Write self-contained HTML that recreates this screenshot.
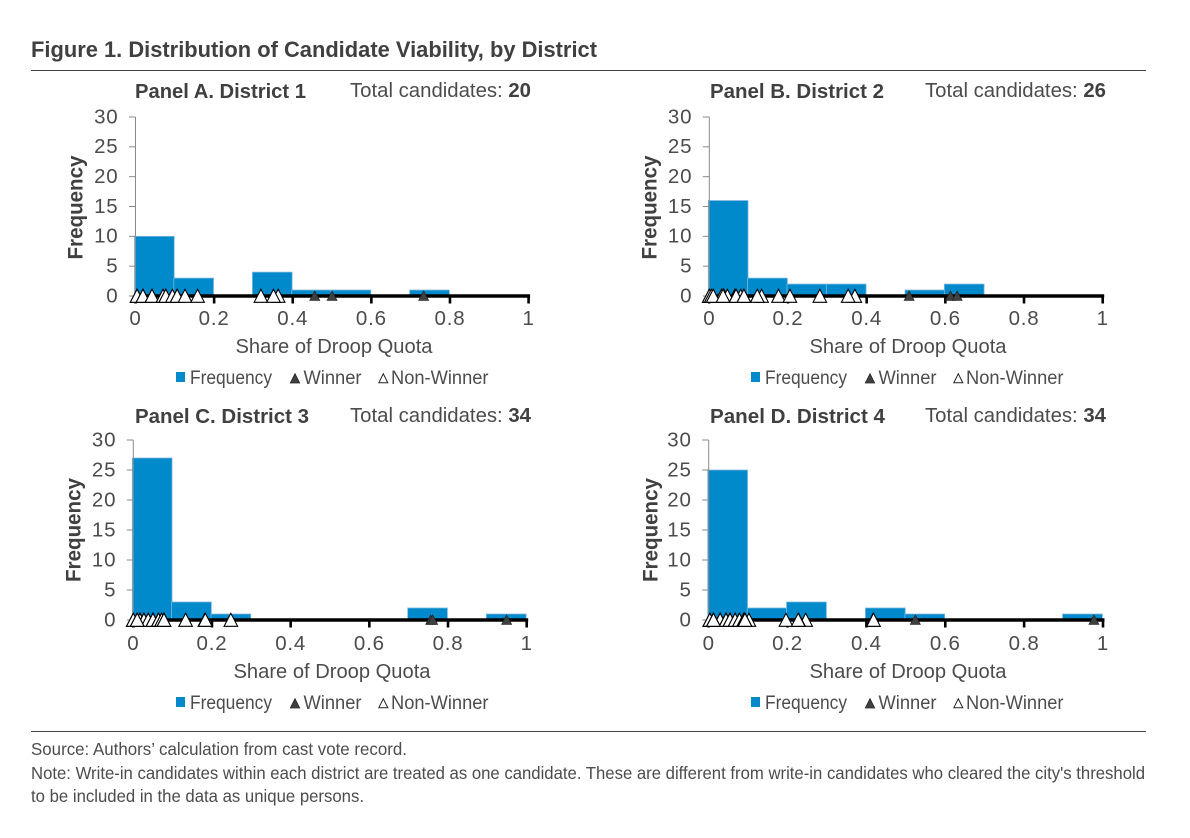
<!DOCTYPE html>
<html lang="en">
<head>
<meta charset="utf-8">
<title>Figure 1. Distribution of Candidate Viability, by District</title>
<style>
html,body{margin:0;padding:0;background:#fff;width:1190px;height:838px;overflow:hidden}
svg{display:block}
text{font-family:"Liberation Sans",sans-serif;fill:#4c4c4c}
.b{font-weight:bold;fill:#404040}
.t{font-size:20px}
.k{font-size:20.5px;letter-spacing:.8px}
.f{font-size:17.5px}
</style>
</head>
<body>
<svg id="chart" width="1190" height="838" viewBox="0 0 1190 838" xmlns="http://www.w3.org/2000/svg">
  <text class="b" x="31" y="57" font-size="22" textLength="566" lengthAdjust="spacingAndGlyphs">Figure 1. Distribution of Candidate Viability, by District</text>
  <rect x="31" y="70" width="1115" height="1" fill="#444"/>
  <rect x="31" y="731" width="1115" height="1" fill="#444"/>

  <text class="b t" x="135" y="98" textLength="171" lengthAdjust="spacingAndGlyphs">Panel A. District 1</text>
  <text class="t" x="350" y="97" textLength="181" lengthAdjust="spacingAndGlyphs">Total candidates: <tspan class="b">20</tspan></text>
  <text class="b t" x="710" y="98" textLength="174" lengthAdjust="spacingAndGlyphs">Panel B. District 2</text>
  <text class="t" x="925" y="97" textLength="181" lengthAdjust="spacingAndGlyphs">Total candidates: <tspan class="b">26</tspan></text>
  <text class="b t" x="135" y="423" textLength="174" lengthAdjust="spacingAndGlyphs">Panel C. District 3</text>
  <text class="t" x="350" y="422" textLength="181" lengthAdjust="spacingAndGlyphs">Total candidates: <tspan class="b">34</tspan></text>
  <text class="b t" x="710" y="423" textLength="175" lengthAdjust="spacingAndGlyphs">Panel D. District 4</text>
  <text class="t" x="925" y="422" textLength="181" lengthAdjust="spacingAndGlyphs">Total candidates: <tspan class="b">34</tspan></text>

  <text class="f" x="31" y="755" textLength="376" lengthAdjust="spacingAndGlyphs">Source: Authors’ calculation from cast vote record.</text>
  <text class="f" x="31" y="779" textLength="1114" lengthAdjust="spacingAndGlyphs">Note: Write-in candidates within each district are treated as one candidate. These are different from write-in candidates who cleared the city's threshold</text>
  <text class="f" x="31" y="802" textLength="333" lengthAdjust="spacingAndGlyphs">to be included in the data as unique persons.</text>
</svg>
<script>
// ---- chart data ----
const binStarts = [0, 0.1, 0.2, 0.3, 0.4, 0.5, 0.6, 0.7, 0.8, 0.9];
const xTickValues = [0, 0.2, 0.4, 0.6, 0.8, 1];
const xTickLabels = ['0', '0.2', '0.4', '0.6', '0.8', '1'];
const yTickValues = [0, 5, 10, 15, 20, 25, 30];
const yTickLabels = ['0', '5', '10', '15', '20', '25', '30'];

const freqA = [10, 3, 0, 4, 1, 1, 0, 1, 0, 0];
const freqB = [16, 3, 2, 2, 0, 1, 2, 0, 0, 0];
const freqC = [27, 3, 1, 0, 0, 0, 0, 2, 0, 1];
const freqD = [25, 2, 3, 0, 2, 1, 0, 0, 0, 1];

const winnersA = [0.456, 0.5, 0.733];
const winnersB = [0.508, 0.613, 0.63];
const winnersC = [0.756, 0.761, 0.949];
const winnersD = [0.524, 0.977];

const nonWinnersA = [0.004, 0.004, 0.019, 0.019, 0.042, 0.042, 0.07, 0.077, 0.077, 0.094, 0.106, 0.106, 0.126, 0.158, 0.319, 0.363, 0.351];
const nonWinnersB = [0, 0, 0.005, 0.037, 0.037, 0.031, 0.01, 0.01, 0.065, 0.046, 0.035, 0.08, 0.068, 0.068, 0.088, 0.088, 0.133, 0.122, 0.176, 0.205, 0.281, 0.37, 0.353];
const nonWinnersC = [0, 0, 0, 0.017, 0.017, 0.017, 0.017, 0.027, 0.027, 0.027, 0.038, 0.038, 0.05, 0.05, 0.05, 0.05, 0.064, 0.064, 0.064, 0.01, 0.01, 0.01, 0.072, 0.072, 0.078, 0.078, 0.078, 0.133, 0.182, 0.183, 0.248];
const nonWinnersD = [0.003, 0.003, 0.003, 0.029, 0.029, 0.029, 0.044, 0.044, 0.044, 0.054, 0.054, 0.054, 0.067, 0.067, 0.078, 0.078, 0.012, 0.012, 0.012, 0.012, 0.102, 0.089, 0.089, 0.092, 0.092, 0.092, 0.196, 0.246, 0.228, 0.227, 0.417, 0.418];

const seriesNames = ['Frequency', 'Winner', 'Non-Winner'];
const xAxisTitle = 'Share of Droop Quota';
const yAxisTitle = 'Frequency';

// ---- layout ----
const panels = [
  {id: 'a', freq: freqA, win: winnersA, non: nonWinnersA, x0: 135.5, x1: 528.6, y0: 296, y30: 117, tx: 82.7, cy: 207.5, xt: 334, lx: 0, ly: 0, lab: 29, ttl: 353},
  {id: 'b', freq: freqB, win: winnersB, non: nonWinnersB, x0: 709.3, x1: 1102.7, y0: 296, y30: 117, tx: 656.7, cy: 207.5, xt: 908, lx: 575, ly: 0, lab: 29, ttl: 353},
  {id: 'c', freq: freqC, win: winnersC, non: nonWinnersC, x0: 133.3, x1: 526.7, y0: 620, y30: 440, tx: 80.7, cy: 530, xt: 332, lx: 0, ly: 325, lab: 30, ttl: 678},
  {id: 'd', freq: freqD, win: winnersD, non: nonWinnersD, x0: 708.7, x1: 1103, y0: 620, y30: 440, tx: 657.3, cy: 530, xt: 908, lx: 575, ly: 325, lab: 30, ttl: 678}
];

const NS = 'http://www.w3.org/2000/svg';
const root = document.getElementById('chart');

function make(tag, attrs, parent, txt) {
  const node = document.createElementNS(NS, tag);
  for (const k in attrs) node.setAttribute(k, attrs[k]);
  if (txt !== undefined) node.textContent = txt;
  parent.appendChild(node);
  return node;
}
function tri(cx, cy, w, h) {
  return (cx - w / 2) + ',' + (cy + h / 2) + ' ' + cx + ',' + (cy - h / 2) + ' ' + (cx + w / 2) + ',' + (cy + h / 2);
}

panels.forEach(function (p) {
  const xPos = function (v) { return p.x0 + (p.x1 - p.x0) * v; };
  const yPos = function (v) { return p.y0 - (p.y0 - p.y30) * v / 30; };
  let el;

  const g = make('g', {}, root);
  
  

  // bars
  binStarts.forEach(function (b, i) {
    if (!p.freq[i]) return;
    const left = xPos(b) - 1;
    const right = xPos(b + 0.1) - 0.6;
    el = make('rect', {x: left, y: yPos(p.freq[i]), width: right - left, height: p.y0 - yPos(p.freq[i]), fill: '#0089cb', stroke: '#7cb8de', 'stroke-width': 0.8}, g);
    
    
  });

  // y axis
  el = make('line', {x1: p.x0, x2: p.x0, y1: p.y30, y2: p.y0, stroke: '#8a8a8a', 'stroke-width': 1}, g);
  
  
  yTickValues.forEach(function (v, i) {
    el = make('line', {x1: p.x0 - 6.5, x2: p.x0, y1: yPos(v), y2: yPos(v), stroke: '#8a8a8a', 'stroke-width': 1}, g);
    
    
    el = make('text', {x: p.x0 - 17, y: yPos(v) + 6.3, 'text-anchor': 'end', class: 'k'}, g, yTickLabels[i]);
    
    
  });

  // x axis
  el = make('line', {x1: p.x0 - 1, x2: p.x1 + 1.5, y1: p.y0, y2: p.y0, stroke: '#000', 'stroke-width': 3.6}, g);
  
  
  xTickValues.forEach(function (v, i) {
    el = make('line', {x1: xPos(v), x2: xPos(v), y1: p.y0, y2: p.y0 + 7.5, stroke: '#000', 'stroke-width': 2.6}, g);
    
    
    el = make('text', {x: xPos(v), y: p.y0 + p.lab, 'text-anchor': 'middle', class: 'k'}, g, xTickLabels[i]);
    
    
  });

  // axis titles
  el = make('text', {x: p.xt, y: p.ttl, 'text-anchor': 'middle', 'font-size': 20.5, textLength: 197, lengthAdjust: 'spacingAndGlyphs'}, g, xAxisTitle);
  
  
  el = make('text', {transform: 'translate(' + p.tx + ' ' + p.cy + ') rotate(-90)', 'text-anchor': 'middle', class: 'b', 'font-size': 21, textLength: 104, lengthAdjust: 'spacingAndGlyphs'}, g, yAxisTitle);
  
  

  // markers
  p.non.forEach(function (v) {
    el = make('polygon', {points: tri(xPos(v), p.y0 - 0.2, 13.5, 13), fill: '#fff', stroke: '#000', 'stroke-width': 1.1}, g);
    
    
  });
  p.win.forEach(function (v) {
    el = make('polygon', {points: tri(xPos(v), p.y0 - 0.3, 10, 9.5), fill: '#404040', stroke: '#222', 'stroke-width': 0.7}, g);
    
    
  });

  // legend
  const lg = make('g', {transform: 'translate(' + p.lx + ' ' + p.ly + ')'}, g);
  
  
  el = make('rect', {x: 176, y: 372, width: 9, height: 10, fill: '#0089cb'}, lg);
  
  
  el = make('text', {x: 190, y: 384, 'font-size': 19.5, textLength: 82, lengthAdjust: 'spacingAndGlyphs'}, lg, seriesNames[0]);
  
  
  el = make('polygon', {points: tri(295, 378.3, 9.5, 9.5), fill: '#404040', stroke: '#222', 'stroke-width': 0.7}, lg);
  
  
  el = make('text', {x: 303.5, y: 384, 'font-size': 19.5, textLength: 58, lengthAdjust: 'spacingAndGlyphs'}, lg, seriesNames[1]);
  
  
  el = make('polygon', {points: tri(383.3, 378.3, 9, 9), fill: '#fff', stroke: '#222', 'stroke-width': 1}, lg);
  
  
  el = make('text', {x: 391, y: 384, 'font-size': 19.5, textLength: 97.5, lengthAdjust: 'spacingAndGlyphs'}, lg, seriesNames[2]);
  
  
});
</script>
</body>
</html>
